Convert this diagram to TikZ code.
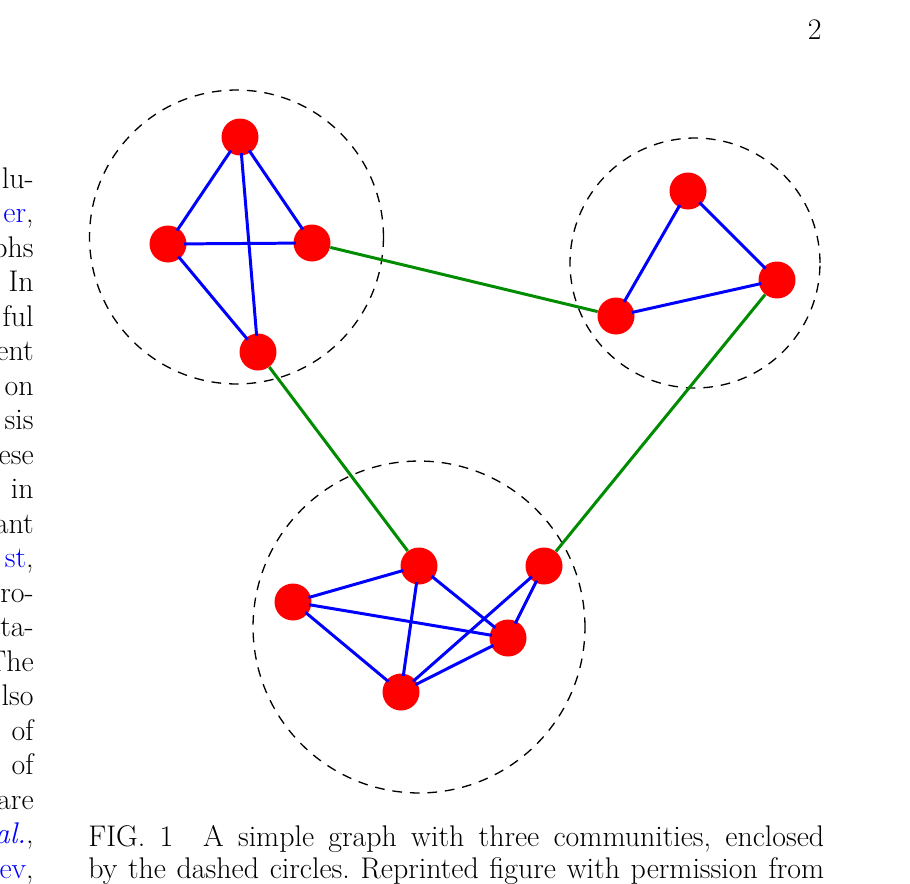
\documentclass[tikz,border=0pt]{standalone}
\begin{document}
\frenchspacing
\begin{tikzpicture}[x=0.02cm,y=-0.02cm,font=\fontsize{17}{20.4}\selectfont,
  vertex/.style={circle,fill=red,minimum size=0.74cm,inner sep=0pt},
  community/.style={circle,draw,line width=0.75pt,dash pattern=on 5.5pt off 4.5pt,inner sep=0pt},
  intra/.style={blue,line width=1.7pt,shorten <=-1.5pt,shorten >=-1.5pt},
  inter/.style={green!55!black,line width=1.7pt},
  txt/.style={inner sep=0pt}]
\useasboundingbox (0,0) rectangle (910,883);
% page number and cut column
\node[txt,anchor=base east] (pageno) at (822,39) {2};
\foreach \w [count=\i from 0] in {lu-,{\textcolor{blue}{er},},phs,In,ful,ent,on,sis,ese,in,ant,
  {\textcolor{blue}{st},},ro-,ta-,The,lso,of,of,are,{\textcolor{blue}{\textit{al.}},},{\textcolor{blue}{ev},}}
  \node[txt,anchor=base east] (col\i) at (34,188+34.5*\i) {\w};
% communities
\node[community,minimum size=5.88cm] (commA) at (236.5,237) {};
\node[community,minimum size=5cm] (commB) at (695,263) {};
\node[community,minimum size=6.64cm] (commC) at (419,627) {};
% vertices
\node[vertex] (a1) at (240,137) {};
\node[vertex] (a2) at (168,244) {};
\node[vertex] (a3) at (312,243) {};
\node[vertex] (a4) at (258,352) {};
\node[vertex] (b1) at (688,191) {};
\node[vertex] (b2) at (777,280) {};
\node[vertex] (b3) at (616,316) {};
\node[vertex] (c1) at (419,566) {};
\node[vertex] (c2) at (544,566) {};
\node[vertex] (c3) at (293,602) {};
\node[vertex] (c4) at (508,638) {};
\node[vertex] (c5) at (401,692) {};
% edges
\foreach \u/\v in {a1/a2,a1/a3,a1/a4,a2/a3,a2/a4,b1/b2,b1/b3,b3/b2,
  c3/c1,c3/c4,c3/c5,c1/c5,c1/c4,c5/c4,c5/c2,c2/c4}
  \draw[intra] (\u) -- (\v);
\foreach \u/\v in {a3/b3,a4/c1,b2/c2}
  \draw[inter] (\u) -- (\v);
% caption
\node[txt,anchor=base west] (cap1) at (88,846) {\hbox to 14.72cm{FIG.~1\quad A simple graph with three communities, enclosed}};
\node[txt,anchor=base west] (cap2) at (88,878) {\hbox to 14.72cm{by the dashed circles. Reprinted figure with permission from}};
\end{tikzpicture}
\end{document}
